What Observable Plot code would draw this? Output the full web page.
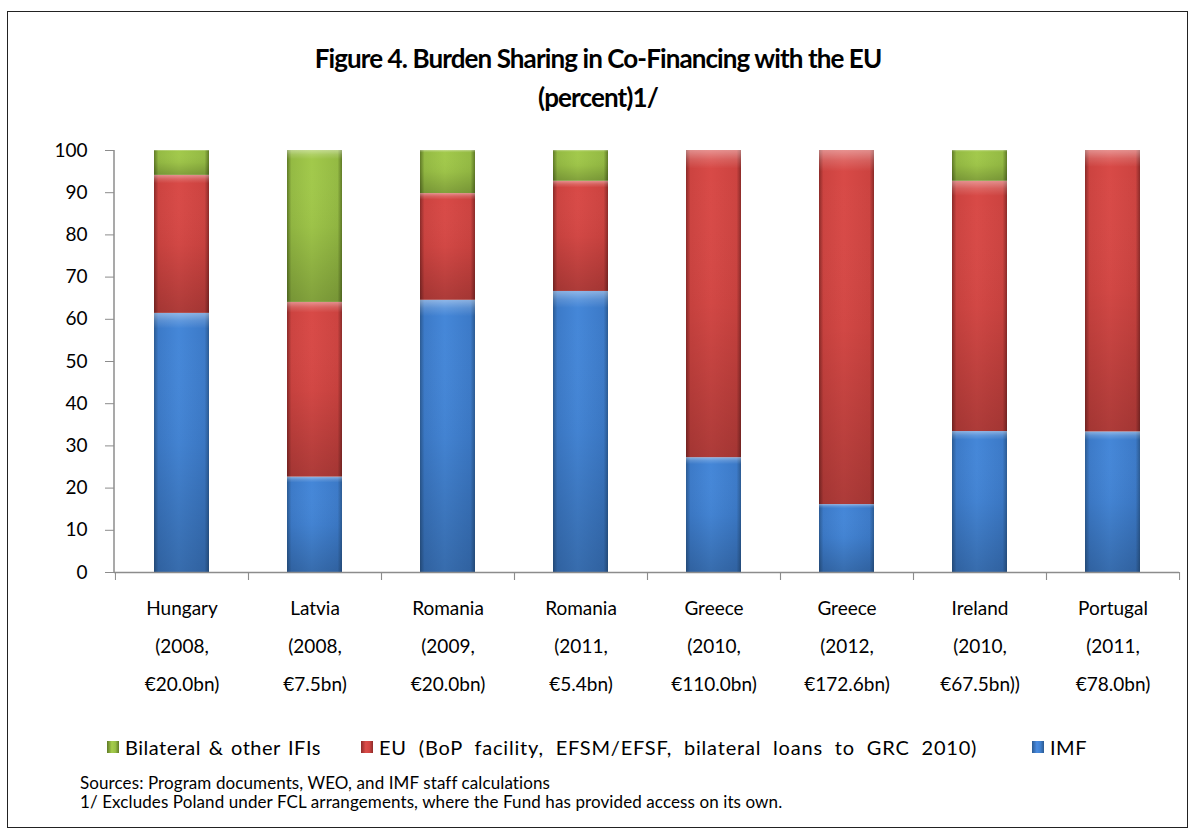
<!DOCTYPE html>
<html>
<head>
<meta charset="utf-8">
<script src="https://cdn.jsdelivr.net/npm/d3@7"></script>
<script src="https://cdn.jsdelivr.net/npm/@observablehq/plot@0.6"></script>
<style>
  html, body { margin: 0; padding: 0; background: #fff; }
  body { width: 1196px; height: 836px; position: relative; overflow: hidden; font-family: Lato, "Open Sans", sans-serif; color: #000; }
  #frame { position: absolute; left: 7px; top: 11px; width: 1181px; height: 817px; border: 1.5px solid #222; box-sizing: border-box; }
  #title { position: absolute; left: 0; width: 1196px; top: 39px; text-align: center; font-weight: 700; font-size: 26px; line-height: 39px; letter-spacing: -0.9px; }
  #chart { position: absolute; left: 0; top: 130px; }
  #legend { position: absolute; top: 735px; left: 0; width: 1196px; height: 26px; font-size: 20px; }
  .li { position: absolute; top: 0; white-space: nowrap; display: flex; align-items: center; }
  .sw { width: 12px; height: 12px; margin-right: 6px; display: inline-block; }
  #notes { position: absolute; left: 80px; top: 773px; font-size: 17px; line-height: 19px; letter-spacing: 0.1px; }
</style>
</head>
<body>
<div id="frame"></div>
<div id="title">Figure 4. Burden Sharing in Co-Financing with the EU<br>(percent)1/</div>
<div id="chart"></div>
<div id="legend"></div>
<div id="notes">Sources: Program documents, WEO, and IMF staff calculations<br>1/ Excludes Poland under FCL arrangements, where the Fund has provided access on its own.</div>
<script>
// ---- data ----
const categories = [
  "Hungary\n(2008,\n€20.0bn)",
  "Latvia\n(2008,\n€7.5bn)",
  "Romania\n(2009,\n€20.0bn)",
  "Romania\n(2011,\n€5.4bn)",
  "Greece\n(2010,\n€110.0bn)",
  "Greece\n(2012,\n€172.6bn)",
  "Ireland\n(2010,\n€67.5bn))",
  "Portugal\n(2011,\n€78.0bn)"
];
const seriesNames = ["IMF", "EU (BoP facility, EFSM/EFSF, bilateral loans to GRC 2010)", "Bilateral & other IFIs"];
const imfValues = [61.4, 22.6, 64.5, 66.6, 27.2, 16.1, 33.4, 33.3];
const euValues = [32.7, 41.4, 25.3, 26.1, 72.8, 83.9, 59.3, 66.7];
const otherValues = [5.9, 36.0, 10.2, 7.3, 0, 0, 7.3, 0];
const yTicks = [0, 10, 20, 30, 40, 50, 60, 70, 80, 90, 100];
const legendOrder = ["Bilateral & other IFIs", "EU (BoP facility, EFSM/EFSF, bilateral loans to GRC 2010)", "IMF"];

// ---- styles ----
const gradients = {
  gImf: {edge: "#2b5a92", mid: "#3c7ac8", light: "#4587d8"},
  gEu: {edge: "#8a2a28", mid: "#cc4340", light: "#d84a47"},
  gOther: {edge: "#5f7a26", mid: "#94ba43", light: "#a2c94b"}
};
const fillUrls = ["url(#gImf)", "url(#gEu)", "url(#gOther)"];
const swatchCss = {
  "IMF": "linear-gradient(90deg,#2b5a92,#4a8be0 40%,#3f80cf 70%,#2b5a92)",
  "EU (BoP facility, EFSM/EFSF, bilateral loans to GRC 2010)": "linear-gradient(90deg,#8e2b29,#dc4d4a 40%,#d14542 70%,#8e2b29)",
  "Bilateral & other IFIs": "linear-gradient(90deg,#5f7a26,#a6cd4c 40%,#98bf45 70%,#5f7a26)"
};
const legendLeft = [107, 361, 1032];
const legendWordSpacing = [2, 6, 0];
const legendLetterSpacing = [0.5, 0.8, 0.5];

// ---- table ----
const seriesValues = [imfValues, euValues, otherValues];
const rows = [];
seriesNames.forEach((s, si) => {
  categories.forEach((c, ci) => rows.push({cat: c, series: s, value: seriesValues[si][ci]}));
});

const W = 1196, mL = 114, mR = 17;
const step = (W - mL - mR) / categories.length;
const axisColor = "#8c8c8c";

const plot = Plot.plot({
  width: W,
  height: 580,
  marginTop: 20,
  marginLeft: mL,
  marginRight: mR,
  marginBottom: 138,
  style: {fontFamily: "Lato, 'Open Sans', sans-serif", fontSize: "19px", color: "#000", background: "transparent", overflow: "visible"},
  x: {domain: categories, paddingInner: 0.59, paddingOuter: 0.295, label: null, axis: null},
  y: {domain: [0, 100], label: null, axis: null},
  color: {domain: seriesNames, range: fillUrls},
  marks: [
    Plot.barY(rows, {x: "cat", y: "value", fill: "series"}),
    Plot.barY(rows, {x: "cat", y: "value", fill: "url(#shade)"}),
    Plot.ruleY([0], {stroke: axisColor, strokeWidth: 1.5}),
    Plot.axisY(yTicks, {anchor: "left", tickSize: 9, tickPadding: 18, stroke: axisColor, fill: "#000", label: null, tickFormat: d => String(d), fontSize: 19}),
    Plot.axisX({tickSize: 0, tickPadding: 16, lineHeight: 2, fill: "#000", fontSize: 19, label: null}),
    Plot.axisX({tickSize: 8, text: null, stroke: axisColor, dx: -step / 2, label: null}),
    Plot.axisX({tickSize: 8, text: null, stroke: axisColor, dx: step / 2, label: null})
  ]
});

// gradient defs
const svg = d3.select(plot);
const defs = svg.insert("defs", ":first-child");
for (const [id, g] of Object.entries(gradients)) {
  const lg = defs.append("linearGradient").attr("id", id).attr("x1", 0).attr("x2", 1).attr("y1", 0).attr("y2", 0);
  lg.append("stop").attr("offset", "0%").attr("stop-color", g.edge);
  lg.append("stop").attr("offset", "8%").attr("stop-color", g.mid);
  lg.append("stop").attr("offset", "45%").attr("stop-color", g.light);
  lg.append("stop").attr("offset", "92%").attr("stop-color", g.mid);
  lg.append("stop").attr("offset", "100%").attr("stop-color", g.edge);
}
const sh = defs.append("linearGradient").attr("id", "shade").attr("x1", 0).attr("x2", 0).attr("y1", 0).attr("y2", 1);
sh.append("stop").attr("offset", "0%").attr("stop-color", "#fff").attr("stop-opacity", 0.4);
sh.append("stop").attr("offset", "3%").attr("stop-color", "#fff").attr("stop-opacity", 0.15);
sh.append("stop").attr("offset", "6%").attr("stop-color", "#fff").attr("stop-opacity", 0);
sh.append("stop").attr("offset", "50%").attr("stop-color", "#000").attr("stop-opacity", 0.03);
sh.append("stop").attr("offset", "100%").attr("stop-color", "#000").attr("stop-opacity", 0.2);
document.getElementById("chart").appendChild(plot);

// y-axis line
const yScale = plot.scale("y");
svg.append("line")
  .attr("x1", mL).attr("x2", mL)
  .attr("y1", yScale.apply(0)).attr("y2", yScale.apply(100))
  .attr("stroke", axisColor).attr("stroke-width", 1.5);

// legend
const legend = d3.select("#legend");
legendOrder.forEach((name, i) => {
  const item = legend.append("div").attr("class", "li")
    .style("left", legendLeft[i] + "px")
    .style("word-spacing", legendWordSpacing[i] + "px")
    .style("letter-spacing", legendLetterSpacing[i] + "px");
  item.append("span").attr("class", "sw").style("background", swatchCss[name]);
  item.append("span").text(name);
});
</script>
</body>
</html>
